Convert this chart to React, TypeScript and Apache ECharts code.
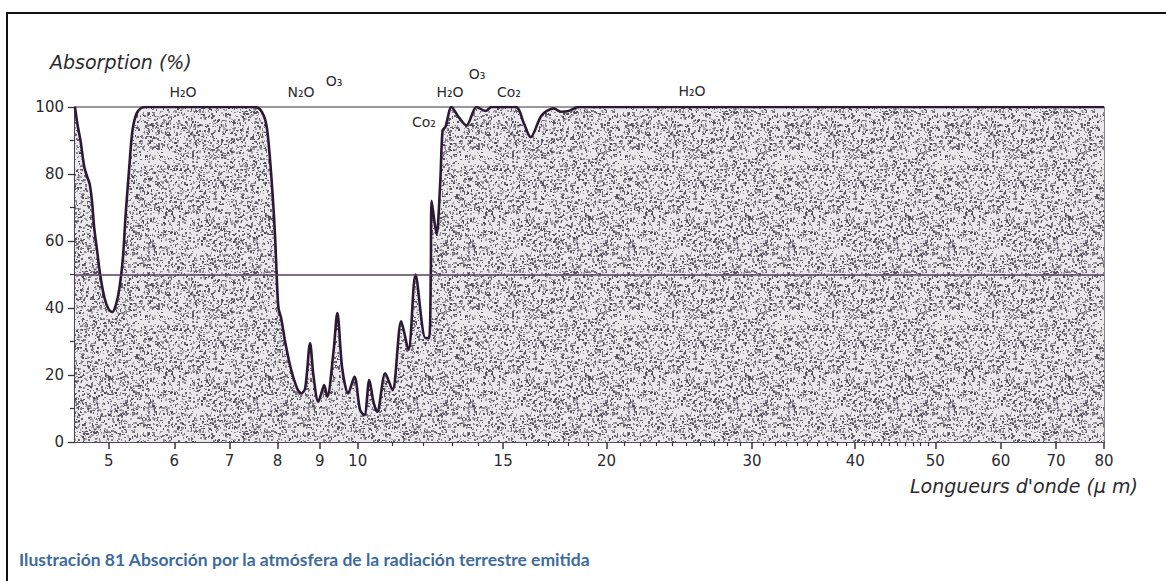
import React, { useEffect, useRef } from "react";
import * as echarts from "echarts";

// Wavelength (µm) and atmospheric absorption (%)
const WAVELENGTH_UM = [
  4.55, 4.58, 4.62, 4.67, 4.71, 4.74, 4.77, 4.8, 4.84, 4.88, 4.94, 5.0, 5.05, 5.1, 5.15, 5.2, 5.24,
  5.3, 5.34, 5.4, 5.47, 5.55,
  7.45, 7.62, 7.75, 7.83, 7.9, 7.95, 7.98, 8.02, 8.08, 8.17, 8.3, 8.45, 8.55, 8.64, 8.76, 8.84,
  8.96, 9.05, 9.11, 9.19, 9.35, 9.45, 9.58, 9.74, 9.91, 10.07, 10.19, 10.33, 10.45, 10.56, 10.8,
  11.02, 11.29, 11.52, 11.75, 12.08, 12.2, 12.26, 12.29, 12.46, 12.59, 12.67, 12.77, 12.99,
  13.25, 13.54, 13.93, 14.28, 14.52, 15.53, 15.9, 16.19, 16.7, 17.27, 17.61, 18.0, 18.5, 80,
];
const ABSORPTION_PCT = [
  100, 95, 90, 82, 79, 77, 72, 64, 57, 50, 43, 39.5, 38.8, 41, 46, 55, 68,
  84, 93, 98, 99.7, 100,
  100, 99.3, 95, 85, 72, 60, 50, 40, 37, 30, 22, 16, 14.5, 16, 29.5, 20,
  12, 15, 17, 13.5, 27, 38.5, 22, 14.5, 19.5, 9.5, 8, 18.5, 12, 9, 20.5,
  15.5, 36, 27.5, 50, 31, 31, 50, 72, 62, 78, 93, 94, 100,
  97, 94.5, 100, 98.8, 100, 100, 95, 91, 97.5, 99.6, 98.6, 98.8, 100, 100,
];

const X_LABEL_VALUES = [5, 6, 7, 8, 9, 10, 15, 20, 30, 40, 50, 60, 70, 80];
const X_MINOR_TICKS = [
  11, 12, 13, 14, 16, 17, 18, 19, 21, 22, 23, 24, 25, 26, 27, 28, 29, 31, 32, 33, 34, 35, 36, 37,
  38, 39, 41, 42, 43, 44, 45, 46, 47, 48, 49,
];
const REFERENCE_LEVEL = 50;

const GAS_LABELS = ["H₂O", "N₂O", "O₃", "H₂O", "O₃", "Co₂", "Co₂", "H₂O"];
const Y_TITLE = "Absorption (%)";
const X_TITLE = "Longueurs d'onde (µ m)";
const CAPTION = "Ilustración 81 Absorción por la atmósfera de la radiación terrestre emitida";

function makeStipple(): HTMLCanvasElement {
  const size = 160;
  const c = document.createElement("canvas");
  c.width = size;
  c.height = size;
  const ctx = c.getContext("2d")!;
  ctx.fillStyle = "#eae8eb";
  ctx.fillRect(0, 0, size, size);
  let s = 987654321;
  const next = () => {
    s = (Math.imul(s, 1664525) + 1013904223) >>> 0;
    return s / 4294967296;
  };
  const inks = ["#544e5c", "#6e6875", "#8b8691", "#a6a1aa"];
  for (let i = 0; i < 4300; i++) {
    const x = Math.floor(next() * size);
    const y = Math.floor(next() * size);
    const w = 1 + Math.floor(next() * 2);
    const h = 1 + Math.floor(next() * 2);
    ctx.fillStyle = inks[Math.floor(next() * inks.length)];
    ctx.fillRect(x, y, w, h);
  }
  return c;
}

export default function App() {
  const ref = useRef<HTMLDivElement>(null);

  useEffect(() => {
    document.body.style.margin = "0";
    if (!ref.current) return;
    const chart = echarts.init(ref.current, undefined, { renderer: "svg" });
    const stipple = makeStipple();
    const data = WAVELENGTH_UM.map((w, i) => [w, ABSORPTION_PCT[i]]);
    const ink = "#3a3040";
    const txt = "#2c2a2e";
    const gasFont = "14px 'DejaVu Sans'";
    const gasPos = [
      [183, 92],
      [301, 92],
      [334, 81],
      [450, 92],
      [477, 74],
      [509, 92],
      [424, 122],
      [692, 91],
    ];

    chart.setOption({
      animation: false,
      backgroundColor: "#ffffff",
      title: {
        text: CAPTION,
        left: 14,
        top: 545,
        textStyle: { fontFamily: "Lato", fontWeight: "bold", fontSize: 17.5, color: "#3e6b9e" },
      },
      grid: {
        left: 75,
        right: 62,
        top: 107,
        bottom: 139,
        show: true,
        borderColor: ink,
        borderWidth: 1.2,
        backgroundColor: "transparent",
      },
      xAxis: [
        {
          type: "log",
          logBase: 10,
          min: 4.55,
          max: 80,
          position: "bottom",
          axisLine: { show: true, onZero: false, lineStyle: { color: ink, width: 1.5 } },
          axisTick: {
            show: true,
            customValues: X_LABEL_VALUES,
            length: 7,
            lineStyle: { color: ink, width: 1.5 },
          },
          axisLabel: {
            customValues: X_LABEL_VALUES,
            margin: 11,
            fontSize: 15,
            fontFamily: "DejaVu Sans",
            color: txt,
          },
          splitLine: { show: false },
          minorTick: { show: false },
        },
        {
          type: "log",
          logBase: 10,
          min: 4.55,
          max: 80,
          position: "bottom",
          axisLine: { show: false, onZero: false },
          axisTick: {
            show: true,
            customValues: X_MINOR_TICKS,
            length: 4,
            lineStyle: { color: ink, width: 1.2 },
          },
          axisLabel: { show: false },
          splitLine: { show: false },
        },
      ],
      yAxis: {
        type: "value",
        min: 0,
        max: 100,
        interval: 20,
        axisLine: { show: true, lineStyle: { color: ink, width: 1.5 } },
        axisTick: { show: true, length: 7, lineStyle: { color: ink, width: 1.3 } },
        minorTick: { show: true, splitNumber: 2, length: 5, lineStyle: { color: ink, width: 1.2 } },
        axisLabel: { margin: 11, fontSize: 15, fontFamily: "DejaVu Sans", color: txt },
        splitLine: { show: false },
      },
      series: [
        {
          type: "line",
          xAxisIndex: 0,
          data,
          symbol: "none",
          showSymbol: false,
          smooth: 0.3,
          lineStyle: { color: "#2c1a34", width: 2.6, join: "round" },
          areaStyle: {
            color: {
              image: stipple,
              repeat: "repeat",
              imageWidth: stipple.width,
              imageHeight: stipple.height,
            },
            opacity: 1,
          },
          markLine: {
            silent: true,
            symbol: ["none", "none"],
            label: { show: false },
            lineStyle: { color: "#5a3d62", width: 1.5, type: "solid" },
            data: [{ yAxis: REFERENCE_LEVEL }],
          },
        },
      ],
      graphic: [
        {
          type: "rect",
          shape: { x: 7, y: 13, width: 1200, height: 600 },
          style: { fill: "none", stroke: "#111", lineWidth: 2 },
          silent: true,
        },
        {
          type: "text",
          x: 50,
          y: 62,
          style: {
            text: Y_TITLE,
            font: "italic 19px 'DejaVu Sans'",
            fill: txt,
            align: "left",
            verticalAlign: "middle",
          },
        },
        {
          type: "text",
          x: 1138,
          y: 486,
          style: {
            text: X_TITLE,
            font: "italic 19px 'DejaVu Sans'",
            fill: txt,
            align: "right",
            verticalAlign: "middle",
          },
        },
        ...GAS_LABELS.map((t, i) => ({
          type: "text",
          x: gasPos[i][0],
          y: gasPos[i][1],
          style: { text: t, font: gasFont, fill: txt, align: "center", verticalAlign: "middle" },
        })),
      ],
    });

    return () => chart.dispose();
  }, []);

  return <div ref={ref} style={{ width: 1166, height: 581 }} />;
}
